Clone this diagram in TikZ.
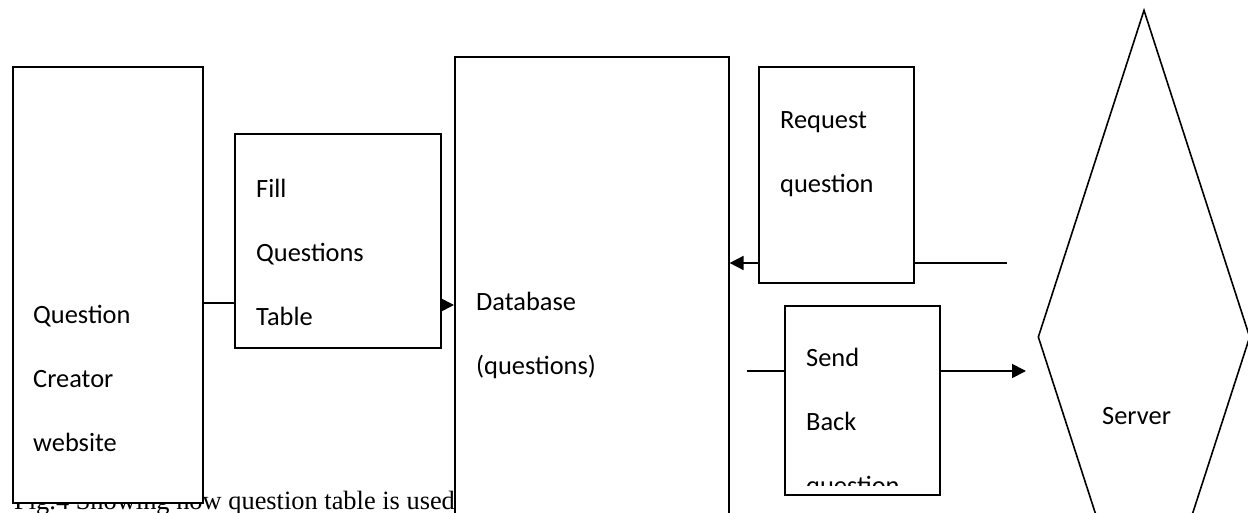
\documentclass[tikz,border=0pt]{standalone}
\usepackage{fontspec}
\setmainfont{Liberation Serif}
\newfontfamily\carlito{Carlito}
\usetikzlibrary{arrows.meta,shapes.geometric}

\begin{document}
\begin{tikzpicture}[x=1pt, y=-1pt,
box/.style={draw, line width=1.6pt, fill=white, anchor=north west, inner sep=0pt},
lbl/.style={anchor=base west, inner sep=0pt, align=left, font=\carlito\fontsize{26.4}{64}\selectfont},
link/.style={line width=1.8pt},
arrow/.style={link, -{Triangle[length=14pt,width=14pt]}}
]
\clip (0,0) rectangle (1248,513);

% caption sits under the first box
\node[anchor=base west, inner sep=0pt, font=\fontsize{26.4}{30}\selectfont] (caption) at (14,509) {Fig.4 Showing how question table is used};

\node[box, minimum width=190pt, minimum height=436pt] (creator) at (12,66) {};
\node[box, minimum width=206pt, minimum height=214pt] (fill) at (234,133) {};
\node[box, minimum width=274pt, minimum height=500pt] (db) at (454,56) {};
\node[box, minimum width=155pt, minimum height=216pt] (request) at (758,66) {};
\node[box, minimum width=155pt, minimum height=189pt] (send) at (784,305) {};
\node[draw, diamond, line width=1.6pt, minimum width=212pt, minimum height=654pt, inner sep=0pt] (server) at (1144,337) {};

% labels (base = last line)
\node[lbl] (creatortext) at (33,451) {Question\\Creator\\website};
\node[lbl] (filltext) at (256,325) {Fill\\Questions\\Table};
\node[lbl] (dbtext) at (476,374) {Database\\(questions)};
\node[lbl] (requesttext) at (780,193) {Request\\question};
\begin{scope}
\clip (send.north west) rectangle (send.east |- 0,485);
\node[lbl] (sendtext) at (806,494) {Send\\Back\\question};
\end{scope}
\node[lbl] (servertext) at (1102,424) {Server};

% connectors
\coordinate (reqin) at (1007,263);
\coordinate (sendfrom) at (747,371);
\coordinate (sendto) at (1026,371);
\draw[link] (creator.east |- 0,303) -- (fill.west |- 0,303);
\draw[arrow] (fill.east |- 0,305) -- (db.west |- 0,305);
\draw[link] (reqin) -- (request.east |- reqin);
\draw[arrow] (request.west |- reqin) -- (db.east |- reqin);
\draw[link] (sendfrom) -- (send.west |- sendfrom);
\draw[arrow] (send.east |- sendto) -- (sendto);
\end{tikzpicture}
\end{document}
